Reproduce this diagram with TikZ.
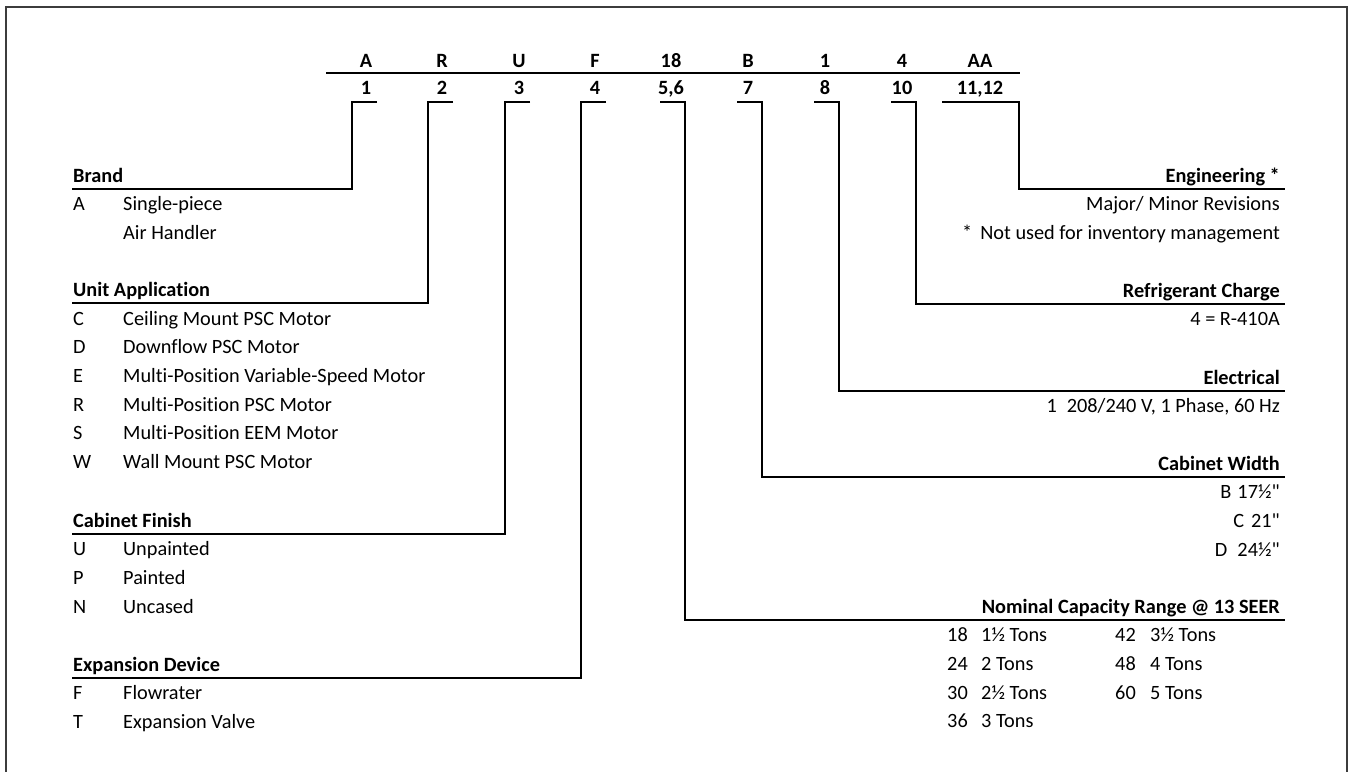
\documentclass[tikz,border=0pt]{standalone}
\usepackage{fontspec}
\setmainfont{Carlito}[Ligatures=NoCommon]
\newfontfamily\qfont{Carlito}
\newcommand{\sq}{{\qfont "}}
\begin{document}
\begin{tikzpicture}[x=1pt,y=-1pt,
  every node/.style={inner sep=0pt, font=\fontsize{20.3}{24}\selectfont},
  lbl/.style={anchor=base west},
  rlbl/.style={anchor=base east},
  hd/.style={anchor=base west, font=\fontsize{20.3}{24}\selectfont\bfseries},
  rhd/.style={anchor=base east, font=\fontsize{20.3}{24}\selectfont\bfseries},
  codetxt/.style={anchor=base, font=\fontsize{20.3}{24}\selectfont\bfseries},
  conn/.style={line width=1.8pt, line join=miter},
  frame/.style={line width=2pt, draw={rgb,255:red,60;green,60;blue,60}}]
\useasboundingbox (0,0) rectangle (1348,771);
\draw[frame] (6,7) rectangle (1347,800);

% header codes
\foreach \x/\l/\n/\nm in {366/A/1/c1, 442/R/2/c2, 519/U/3/c3, 595/F/4/c4, 671/18/{5,6}/c5, 748/B/7/c7, 825/1/8/c8, 902/4/10/c10, 980/AA/{11,12}/c11}{
  \node[codetxt] (l\nm) at (\x,67) {\l};
  \node[codetxt] (\nm) at (\x,94) {\n};
}
\coordinate (hl) at (326,73);
\coordinate (hr) at (1020,73);
\draw[line width=2.2pt] (hl) -- (hr);

% bracket corners and line ends
\coordinate (k1) at (352,102);  \coordinate (e1) at (72,189);
\coordinate (k2) at (428,102);  \coordinate (e2) at (72,303);
\coordinate (k3) at (505,102);  \coordinate (e3) at (72,534);
\coordinate (k4) at (581,102);  \coordinate (e4) at (72,678);
\coordinate (k5) at (685,102);  \coordinate (e5) at (1285,620);
\coordinate (k7) at (762,102);  \coordinate (e7) at (1285,477);
\coordinate (k8) at (839,102);  \coordinate (e8) at (1285,391);
\coordinate (k10) at (916,102); \coordinate (e10) at (1285,304);
\coordinate (k11) at (1019,102);\coordinate (e11) at (1285,189);

\draw[conn] (k1) ++(25,0) -- (k1) |- (e1);
\draw[conn] (k2) ++(25,0) -- (k2) |- (e2);
\draw[conn] (k3) ++(25,0) -- (k3) |- (e3);
\draw[conn] (k4) ++(25,0) -- (k4) |- (e4);
\draw[conn] (k5) ++(-25,0) -- (k5) |- (e5);
\draw[conn] (k7) ++(-25,0) -- (k7) |- (e7);
\draw[conn] (k8) ++(-25,0) -- (k8) |- (e8);
\draw[conn] (k10) ++(-25,0) -- (k10) |- (e10);
\draw[conn] (k11) ++(-77,0) -- (k11) |- (e11);

% left: Brand
\node[hd] (brand) at (73,182) {Brand};
\node[lbl] (bA) at (73,210) {A};
\node[lbl] (bAt) at (123,210) {Single-piece};
\node[lbl] (bAt2) at (123,239) {Air Handler};

% Unit Application
\node[hd] (unit) at (73,296) {Unit Application};
\foreach \y/\k/\t [count=\i] in {325/C/Ceiling Mount PSC Motor, 353.7/D/Downflow PSC Motor, 382.4/E/Multi-Position Variable-Speed Motor, 411/R/Multi-Position PSC Motor, 439.8/S/Multi-Position EEM Motor, 468.5/W/Wall Mount PSC Motor}{
  \node[lbl] (uk\i) at (73,\y) {\k};
  \node[lbl] (ut\i) at (123,\y) {\t};
}

% Cabinet Finish
\node[hd] (finish) at (73,527) {Cabinet Finish};
\foreach \y/\k/\t [count=\i] in {555.5/U/Unpainted, 584/P/Painted, 613/N/Uncased}{
  \node[lbl] (fk\i) at (73,\y) {\k};
  \node[lbl] (ft\i) at (123,\y) {\t};
}

% Expansion Device
\node[hd] (exp) at (73,671) {Expansion Device};
\node[lbl] (xk1) at (73,699.5) {F};
\node[lbl] (xt1) at (123,699.5) {Flowrater};
\node[lbl] (xk2) at (73,728) {T};
\node[lbl] (xt2) at (123,728) {Expansion Valve};

% right: Engineering
\node[rhd] (eng) at (1280,182) {Engineering *};
\node[rlbl] (eng1) at (1280,210) {Major/ Minor Revisions};
\node[rlbl] (eng2) at (1280,239) {*\hspace{8pt}Not used for inventory management};

% Refrigerant
\node[rhd] (ref) at (1280,297) {Refrigerant Charge};
\node[rlbl] (ref1) at (1280,325.5) {4 = R-410A};

% Electrical
\node[rhd] (elec) at (1280,384) {Electrical};
\node[rlbl] (elec1) at (1280,412.5) {1\hspace{10pt}208/240 V, 1 Phase, 60 Hz};

% Cabinet Width
\node[rhd] (cw) at (1280,470) {Cabinet Width};
\node[rlbl] (cw1) at (1280,498.5) {B\hspace{6pt}17½\sq};
\node[rlbl] (cw2) at (1280,527) {C\hspace{7pt}21\sq};
\node[rlbl] (cw3) at (1280,556) {D\hspace{10pt}24½\sq};

% Nominal Capacity
\node[rhd] (nom) at (1280,613) {Nominal Capacity Range @ 13 SEER};
\foreach \y/\a/\b [count=\i] in {641.5/18/1½ Tons, 670/24/2 Tons, 699/30/2½ Tons, 727.5/36/3 Tons}{
  \node[lbl] (na\i) at (947,\y) {\a};
  \node[lbl] (nb\i) at (981,\y) {\b};
}
\foreach \y/\a/\b [count=\i] in {641.5/42/3½ Tons, 670/48/4 Tons, 699/60/5 Tons}{
  \node[lbl] (nc\i) at (1115,\y) {\a};
  \node[lbl] (nd\i) at (1150,\y) {\b};
}
\end{tikzpicture}
\end{document}
